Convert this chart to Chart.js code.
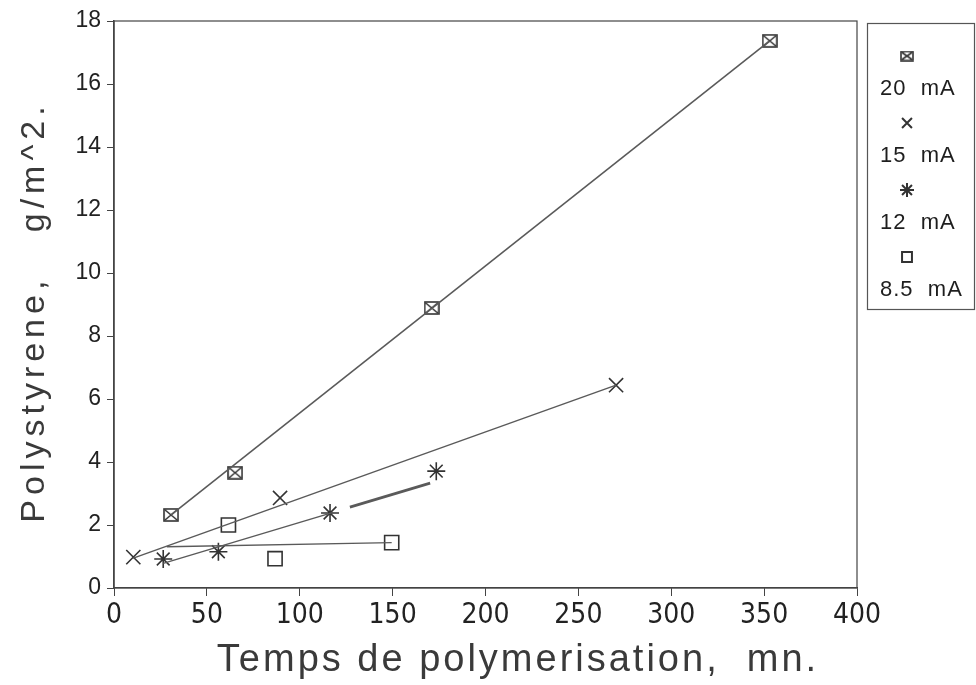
<!DOCTYPE html>
<html>
<head>
<meta charset="utf-8">
<script src="https://cdn.jsdelivr.net/npm/chart.js@4.4.0/dist/chart.umd.min.js"></script>
<style>
  html, body { margin: 0; padding: 0; background: #fff; }
  #cadre { width: 976px; height: 685px; }
</style>
</head>
<body>
<div id="cadre"><canvas id="grafica"></canvas></div>
<script>
// series names, in legend order
const courants = ["20 mA", "15 mA", "12 mA", "8.5 mA"];

// measured points (temps mn, polystyrene g/m^2)
const temps20 = [30.7, 65.2, 171, 353];
const poly20  = [2.32, 3.66, 8.89, 17.37];
const temps15 = [10.4, 89.4, 270.3];
const poly15  = [0.98, 2.86, 6.44];
const temps12 = [26.5, 56.2, 116.3, 173.5];
const poly12  = [0.92, 1.15, 2.38, 3.71];
const temps85 = [61.6, 86.7, 149.5];
const poly85  = [2.0, 0.93, 1.44];

// straight lines drawn through each series (end points)
const ligne20X = [30.7, 353];
const ligne20Y = [2.32, 17.37];
const ligne15X = [10.4, 270.3];
const ligne15Y = [0.95, 6.44];
const ligne12X = [26.5, 118];
const ligne12Y = [0.78, 2.40];
const ligne12bX = [127, 170.2];
const ligne12bY = [2.57, 3.33];
const ligne85X = [28.4, 149.5];
const ligne85Y = [1.31, 1.44];

const ticksX = [0, 50, 100, 150, 200, 250, 300, 350, 400];
const ticksY = [0, 2, 4, 6, 8, 10, 12, 14, 16, 18];

const encre = "#333";
const trait = "#5a5a5a";

function points(xs, ys){
    return xs.map((x, i) => ({x: x, y: ys[i]}));
}

// square with a cross inside, for the 20 mA marker
function boiteCroix(w, h){
    const c = document.createElement("canvas");
    c.width = w; c.height = h;
    const g = c.getContext("2d");
    g.strokeStyle = encre;
    g.lineWidth = 1.6;
    g.strokeRect(1, 1, w - 2, h - 2);
    g.beginPath();
    g.moveTo(2, 2); g.lineTo(w - 2, h - 2);
    g.moveTo(w - 2, 2); g.lineTo(2, h - 2);
    g.stroke();
    return c;
}
const marqueGrand = boiteCroix(16, 14);
const marquePetit = boiteCroix(14, 11);

const styles = [
    {pointStyle: marqueGrand, legende: marquePetit, radius: 8},
    {pointStyle: "crossRot", legende: "crossRot", radius: 10},
    {pointStyle: "star", legende: "star", radius: 9},
    {pointStyle: "rect", legende: "rect", radius: 10}
];

function ligne(xs, ys, largeur){
    return {
        data: points(xs, ys),
        showLine: true,
        borderColor: trait,
        borderWidth: largeur,
        pointRadius: 0,
        fill: false
    };
}

function marques(xs, ys, k){
    return {
        label: courants[k],
        data: points(xs, ys),
        showLine: false,
        pointStyle: styles[k].pointStyle,
        pointRadius: styles[k].radius,
        pointBorderColor: encre,
        pointBackgroundColor: "rgba(0,0,0,0)",
        pointBorderWidth: 1.6
    };
}

const cadrePlugin = {
    id: "cadre",
    beforeDatasetsDraw(chart){
        const a = chart.chartArea;
        const ctx = chart.ctx;
        ctx.save();
        ctx.strokeStyle = "#444";
        ctx.lineWidth = 1.2;
        ctx.strokeRect(a.left, a.top, a.right - a.left, a.bottom - a.top);
        ctx.restore();
    }
};

const titresPlugin = {
    id: "titres",
    afterDraw(chart){
        const ctx = chart.ctx;
        ctx.save();
        ctx.fillStyle = "#3a3a3a";
        ctx.textAlign = "center";
        ctx.textBaseline = "alphabetic";
        ctx.letterSpacing = "3px";
        ctx.font = "38px 'Liberation Sans', Arial, sans-serif";
        ctx.fillText("Temps de polymerisation,  mn.", 518, 671);

        ctx.translate(44, 312);
        ctx.rotate(-Math.PI / 2);
        ctx.letterSpacing = "5px";
        ctx.font = "34px 'Liberation Sans', Arial, sans-serif";
        ctx.fillText("Polystyrene,   g/m^2.", 0, 0);
        ctx.restore();
    }
};

const legendePlugin = {
    id: "legendeVerticale",
    afterDraw(chart){
        const ctx = chart.ctx;
        ctx.save();
        ctx.strokeStyle = "#555";
        ctx.lineWidth = 1.2;
        ctx.strokeRect(867.5, 23.5, 107, 286);
        courants.forEach((nom, k) => {
            const y = 56 + 67 * k;
            ctx.strokeStyle = encre;
            ctx.fillStyle = "rgba(0,0,0,0)";
            ctx.lineWidth = 2;
            Chart.helpers.drawPoint(ctx, {
                pointStyle: styles[k].legende,
                radius: 7,
                rotation: 0,
                borderWidth: 2
            }, 907, y);
            ctx.fillStyle = "#1e1e1e";
            ctx.font = "22px 'Liberation Sans', Arial, sans-serif";
            ctx.letterSpacing = "1px";
            ctx.textAlign = "left";
            ctx.textBaseline = "middle";
            ctx.fillText(nom.replace(" ", "  "), 880, y + 33);
        });
        ctx.restore();
    }
};

const grafica = new Chart("grafica", {
    type: "scatter",
    data: {
        datasets: [
            ligne(ligne20X, ligne20Y, 1.6),
            ligne(ligne15X, ligne15Y, 1.4),
            ligne(ligne12X, ligne12Y, 1.4),
            ligne(ligne12bX, ligne12bY, 2.8),
            ligne(ligne85X, ligne85Y, 1.4),
            marques(temps20, poly20, 0),
            marques(temps15, poly15, 1),
            marques(temps12, poly12, 2),
            marques(temps85, poly85, 3)
        ]
    },
    plugins: [cadrePlugin, titresPlugin, legendePlugin],
    options: {
        responsive: true,
        maintainAspectRatio: false,
        animation: false,
        layout: {padding: {left: 0, top: 21, right: 119, bottom: 0}},
        scales: {
            x: {
                type: "linear",
                min: 0,
                max: 400,
                afterBuildTicks: s => { s.ticks = ticksX.map(v => ({value: v})); },
                afterFit: s => { s.height = 97; },
                grid: {drawOnChartArea: false, tickLength: 8, color: "#444"},
                border: {color: "#444", width: 1.2},
                ticks: {
                    color: "#222",
                    padding: 3,
                    maxRotation: 0,
                    font: {family: "'Liberation Sans Narrow', 'DejaVu Sans Condensed', 'Liberation Sans'", size: 28}
                }
            },
            y: {
                type: "linear",
                min: 0,
                max: 18,
                afterBuildTicks: s => { s.ticks = ticksY.map(v => ({value: v})); },
                afterFit: s => { s.width = 114; },
                grid: {drawOnChartArea: false, tickLength: 7, color: "#444"},
                border: {color: "#444", width: 1.5},
                ticks: {
                    color: "#222",
                    padding: 6,
                    font: {family: "'Liberation Sans', Arial", size: 23}
                }
            }
        },
        plugins: {
            legend: {display: false},
            tooltip: {enabled: false}
        }
    }
});
</script>
</body>
</html>
